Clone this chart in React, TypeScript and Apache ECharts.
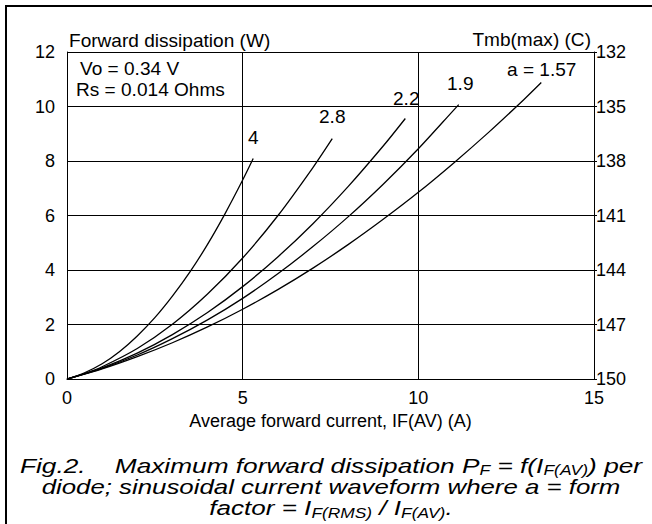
import React, { useEffect, useRef } from "react";
import * as echarts from "echarts";

// Forward dissipation (W) vs average forward current (A), per form factor a
const formFactors = ["4", "2.8", "2.2", "1.9", "a = 1.57"];
const curveA4: number[][] = [[0, 0], [0.5, 0.23], [1, 0.56], [1.5, 1.01], [2, 1.58], [2.5, 2.25], [3, 3.04], [3.5, 3.93], [4, 4.94], [4.5, 6.07], [5, 7.3], [5.3, 8.09]];
const curveA28: number[][] = [[0, 0], [0.5, 0.2], [1, 0.45], [2, 1.12], [3, 2.01], [4, 3.12], [5, 4.44], [6, 5.99], [7, 7.76], [7.55, 8.82]];
const curveA22: number[][] = [[0, 0], [1, 0.41], [2, 0.95], [3, 1.63], [4, 2.44], [5, 3.39], [6, 4.48], [7, 5.7], [8, 7.06], [9, 8.55], [9.63, 9.56]];
const curveA19: number[][] = [[0, 0], [1, 0.39], [2, 0.88], [3, 1.48], [4, 2.17], [5, 2.96], [6, 3.86], [7, 4.86], [8, 5.95], [9, 7.15], [10, 8.45], [11, 9.86], [11.15, 10.07]];
const curveA157: number[][] = [[0, 0], [1, 0.37], [2, 0.82], [3, 1.33], [4, 1.91], [5, 2.56], [6, 3.28], [7, 4.07], [8, 4.93], [9, 5.86], [10, 6.85], [11, 7.92], [12, 9.05], [13, 10.25], [13.5, 10.88]];
const curves = [curveA4, curveA28, curveA22, curveA19, curveA157];

// Axis ranges
const xRange = { min: 0, max: 15, interval: 5 };
const pRange = { min: 0, max: 12, interval: 2 };
const tRange = { min: 132, max: 150, interval: 3 };

const FONT = "Liberation Sans";

export default function App() {
  const ref = useRef<HTMLDivElement>(null);
  useEffect(() => {
    if (!ref.current) return;
    const chart = echarts.init(ref.current, null, { renderer: "svg" });
    const lineColor = "#000";
    const labelPos = [
      { x: 248, y: 138 },
      { x: 319, y: 117 },
      { x: 393, y: 98.5 },
      { x: 447, y: 84 },
      { x: 507, y: 70 },
    ];
    const txt = (text: string, x: number, y: number, align: string = "left") => ({
      type: "text",
      x,
      y,
      scaleX: 1.06,
      silent: true,
      style: {
        text,
        x: 0,
        y: 0,
        fill: "#000",
        fontSize: 18,
        fontFamily: FONT,
        textAlign: align,
        textVerticalAlign: "middle",
        verticalAlign: "middle",
      },
    });
    const rich = {
      n: { fontSize: 21, fontStyle: "italic", fontFamily: FONT, lineHeight: 24, color: "#000", verticalAlign: "middle" },
      s: { fontSize: 14, fontStyle: "italic", fontFamily: FONT, lineHeight: 10, color: "#000", verticalAlign: "bottom" },
    };
    const cap = (text: string, y: number, sx: number) => ({
      type: "text",
      x: 331,
      y,
      scaleX: sx,
      silent: true,
      style: {
        text,
        x: 0,
        y: 0,
        fill: "#000",
        fontSize: 21,
        fontStyle: "italic",
        fontFamily: FONT,
        textAlign: "center",
        textVerticalAlign: "middle",
        verticalAlign: "middle",
        rich,
      },
    });
    chart.setOption({
      animation: false,
      backgroundColor: "#fff",
      textStyle: { fontFamily: FONT },
      grid: { left: 67, right: 58, top: 52, bottom: 145 },
      xAxis: {
        type: "value",
        ...xRange,
        name: "Average forward current, IF(AV) (A)",
        nameLocation: "middle",
        nameGap: 26,
        nameTextStyle: { fontSize: 18, color: "#000", fontFamily: FONT },
        axisLine: { show: true, lineStyle: { color: lineColor, width: 1 } },
        axisTick: { show: false },
        splitLine: { show: true, lineStyle: { color: lineColor, width: 1 } },
        axisLabel: { fontSize: 18, color: "#000", margin: 10, fontFamily: FONT },
      },
      yAxis: [
        {
          type: "value",
          ...pRange,
          position: "left",
          axisLine: { show: true, lineStyle: { color: lineColor, width: 1 } },
          axisTick: { show: false },
          splitLine: { show: true, lineStyle: { color: lineColor, width: 1 } },
          axisLabel: { fontSize: 18, color: "#000", margin: 12, fontFamily: FONT },
        },
        {
          type: "value",
          ...tRange,
          inverse: true,
          position: "right",
          axisLine: { show: true, lineStyle: { color: lineColor, width: 1 } },
          axisTick: { show: true, length: 3, lineStyle: { color: lineColor } },
          splitLine: { show: false },
          axisLabel: { fontSize: 18, color: "#000", margin: 2, fontFamily: FONT },
        },
      ],
      series: curves.map((data, i) => ({
        type: "line",
        name: formFactors[i],
        data,
        smooth: 0.3,
        showSymbol: false,
        silent: true,
        lineStyle: { color: "#000", width: 1.3 },
      })),
      graphic: [
        {
          type: "rect",
          silent: true,
          shape: { x: 6, y: 6, width: 700, height: 600 },
          style: { fill: "none", stroke: "#000", lineWidth: 2 },
        },
        txt("Forward dissipation (W)", 69, 40.5),
        txt("Tmb(max) (C)", 591, 40, "right"),
        txt("Vo = 0.34 V", 80, 69),
        txt("Rs = 0.014 Ohms", 76, 90),
        ...formFactors.map((f, i) => txt(f, labelPos[i].x, labelPos[i].y)),
        cap("{n|Fig.2.    Maximum forward dissipation P}{s|F}{n| = f(I}{s|F(AV)}{n|) per}", 465, 1.25),
        cap("{n|diode; sinusoidal current waveform where a = form}", 487, 1.23),
        cap("{n|factor = I}{s|F(RMS)}{n| / I}{s|F(AV)}{n|.}", 508, 1.24),
      ],
    });
    return () => chart.dispose();
  }, []);
  return (
    <div
      ref={ref}
      style={{ position: "fixed", left: 0, top: 0, width: 652, height: 524, background: "#fff" }}
    />
  );
}
